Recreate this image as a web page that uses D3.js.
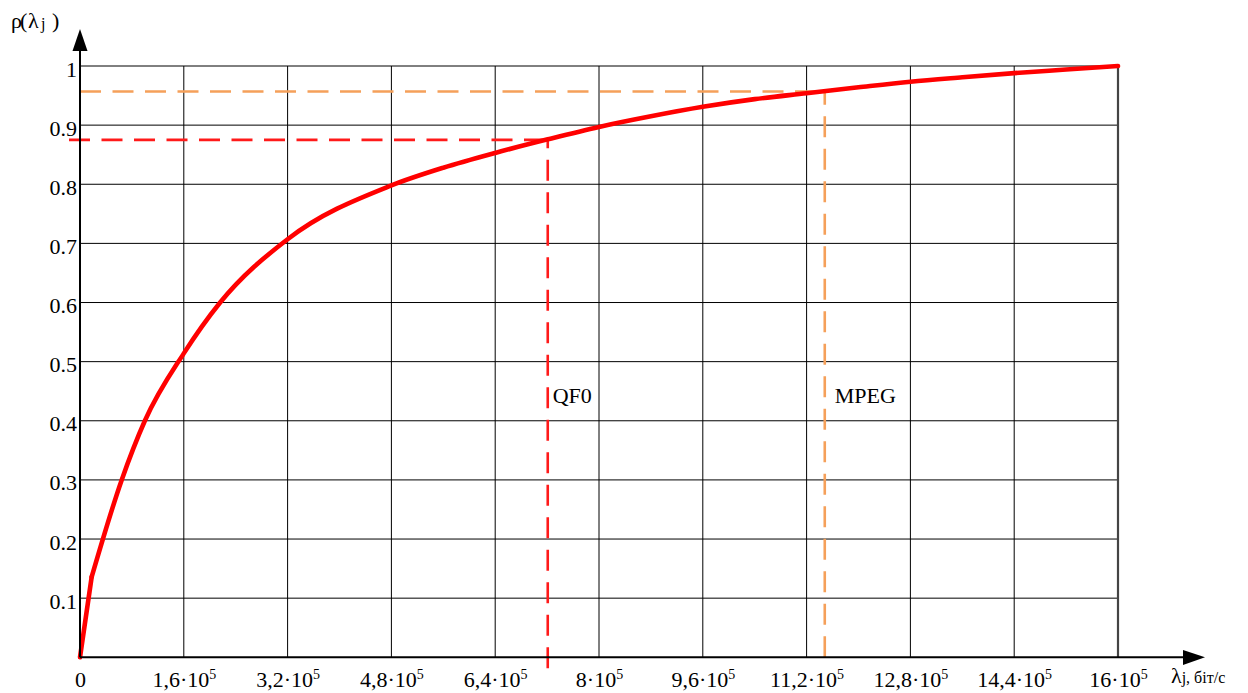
<!DOCTYPE html>
<html>
<head>
<meta charset="utf-8">
<script src="https://cdn.jsdelivr.net/npm/d3@7"></script>
<style>
  body { margin: 0; background: #fff; }
  svg { display: block; }
  svg text, svg tspan { font-family: "Liberation Serif", "Times New Roman", serif !important; fill: #000; }
</style>
</head>
<body>
<svg id="chart" width="1248" height="693"></svg>
<script>
// Channel throughput λj (bit/s) and the resulting ρ(λj)
const bitrate = [0, 0.18e5, 0.643e5, 1.0e5, 1.6e5, 2.16e5, 3.2e5, 4.8e5, 5.6e5,
                 6.4e5, 7.21e5, 8.0e5, 8.8e5, 9.6e5, 10.4e5, 11.2e5, 12.0e5,
                 12.8e5, 13.6e5, 14.4e5, 15.2e5, 16e5];
const rho     = [0, 0.136, 0.3, 0.4, 0.514, 0.6, 0.707, 0.798, 0.828,
                 0.853, 0.876, 0.897, 0.915, 0.931, 0.944, 0.954, 0.964,
                 0.9735, 0.981, 0.988, 0.994, 1.0];

// Marked codecs: bitrate and the ρ level reached
const codecNames = ["QF0", "MPEG"];
const codecRate  = [7.21e5, 11.48e5];
const codecRho   = [0.875, 0.957];

// Axis ticks
const xTicks     = [0, 1.6e5, 3.2e5, 4.8e5, 6.4e5, 8e5, 9.6e5, 11.2e5, 12.8e5, 14.4e5, 16e5];
const xMantissa  = ["0", "1,6", "3,2", "4,8", "6,4", "8", "9,6", "11,2", "12,8", "14,4", "16"];
const yTicks     = [0.1, 0.2, 0.3, 0.4, 0.5, 0.6, 0.7, 0.8, 0.9, 1.0];
const yTickText  = ["0.1", "0.2", "0.3", "0.4", "0.5", "0.6", "0.7", "0.8", "0.9", "1"];

const serif = '"Liberation Serif", "Times New Roman", serif';
const svg = d3.select("#chart").style("font-family", serif);
const x = d3.scaleLinear().domain([0, 16e5]).range([80, 1118]);
const y = d3.scaleLinear().domain([0, 1]).range([657.3, 66]);

// Grid
const grid = svg.append("g").attr("stroke", "#000").attr("stroke-width", 1);
grid.selectAll("line.v").data(xTicks.slice(1, -1)).join("line")
  .attr("class", "v")
  .attr("x1", d => x(d)).attr("x2", d => x(d))
  .attr("y1", y(0)).attr("y2", y(1));
grid.selectAll("line.h").data(yTicks).join("line")
  .attr("class", "h")
  .attr("x1", x(0)).attr("x2", x(16e5))
  .attr("y1", d => y(d)).attr("y2", d => y(d));
// Right border at the maximal rate
svg.append("line")
  .attr("x1", x(16e5)).attr("x2", x(16e5))
  .attr("y1", y(0)).attr("y2", y(1))
  .attr("stroke", "#444").attr("stroke-width", 2.2);

// Codec guide lines
const codecColor = ["#ff1a1a", "#f5a05a"];
const codecExtend = [11, 0];
codecNames.forEach((name, i) => {
  const g = svg.append("g")
    .attr("stroke", codecColor[i]).attr("stroke-width", 2.6)
    .attr("stroke-dasharray", "21 11.5").attr("fill", "none");
  g.append("line")
    .attr("x1", x(0) - codecExtend[i]).attr("x2", x(codecRate[i]))
    .attr("y1", y(codecRho[i])).attr("y2", y(codecRho[i]));
  g.append("line")
    .attr("x1", x(codecRate[i])).attr("x2", x(codecRate[i]))
    .attr("y1", y(0) + codecExtend[i]).attr("y2", y(codecRho[i]));
  svg.append("text")
    .attr("x", x(codecRate[i]) + (i === 0 ? 5 : 10))
    .attr("y", 403)
    .attr("font-size", 22)
    .style("font-family", serif)
    .text(name);
});

// Curve: straight start segment, then a smooth run through the remaining readings
const idx = d3.range(bitrate.length);
const startLine = d3.line().x(i => x(bitrate[i])).y(i => y(rho[i])).curve(d3.curveLinear);
const restLine  = d3.line().x(i => x(bitrate[i])).y(i => y(rho[i])).curve(d3.curveMonotoneX);
const curveG = svg.append("g")
  .attr("fill", "none")
  .attr("stroke", "#ff0000")
  .attr("stroke-width", 4.6)
  .attr("stroke-linejoin", "round")
  .attr("stroke-linecap", "round");
curveG.append("path").attr("d", startLine(idx.slice(0, 2)));
curveG.append("path").attr("d", restLine(idx.slice(1)));

// Axes
const axisG = svg.append("g").attr("stroke", "#000").attr("stroke-width", 2);
axisG.append("line").attr("x1", x(0)).attr("x2", x(0)).attr("y1", y(0)).attr("y2", 45);
axisG.append("line").attr("x1", x(0)).attr("x2", 1188).attr("y1", y(0)).attr("y2", y(0));
svg.append("path").attr("d", "M80,29 L72.5,51 L87.5,51 Z").attr("fill", "#000");
svg.append("path").attr("d", "M1205,657.3 L1183,650 L1183,665 Z").attr("fill", "#000");

// Tick labels through D3 axis generators
const xAxis = svg.append("g")
  .attr("transform", `translate(0,${y(0)})`)
  .call(d3.axisBottom(x).tickValues(xTicks).tickSize(0));
xAxis.attr("font-family", null).style("font-family", serif);
xAxis.select(".domain").remove();
xAxis.selectAll("text")
  .attr("y", 30).attr("dy", 0)
  .attr("font-size", 22)
  .style("font-family", serif)
  .each(function(d, i) {
    const t = d3.select(this).text(null);
    if (d === 0) { t.text(xMantissa[i]); return; }
    t.append("tspan").text(xMantissa[i] + "·10");
    t.append("tspan").attr("font-size", 14).attr("dy", -8).text("5");
  });

const yAxis = svg.append("g")
  .attr("transform", `translate(${x(0)},0)`)
  .call(d3.axisLeft(y).tickValues(yTicks).tickSize(0).tickFormat((d, i) => yTickText[i]));
yAxis.attr("font-family", null).style("font-family", serif);
yAxis.select(".domain").remove();
yAxis.selectAll("text")
  .attr("x", -3).attr("dy", 10)
  .attr("font-size", 22)
  .style("font-family", serif);

// Axis titles
const yTitle = svg.append("text").attr("y", 28).attr("font-size", 22).style("font-family", serif);
yTitle.append("tspan").attr("x", 11).text("ρ");
yTitle.append("tspan").attr("x", 20).text("(");
yTitle.append("tspan").attr("x", 28).text("λ");
yTitle.append("tspan").attr("x", 41).attr("font-size", 16).attr("dy", 1).text("j");
yTitle.append("tspan").attr("x", 52).attr("dy", -1).text(")");

const xTitle = svg.append("text").attr("y", 683).style("font-family", serif);
xTitle.append("tspan").attr("x", 1171).attr("font-size", 22).text("λ");
xTitle.append("tspan").attr("font-size", 16).text("j, біт/с");
</script>
</body>
</html>
